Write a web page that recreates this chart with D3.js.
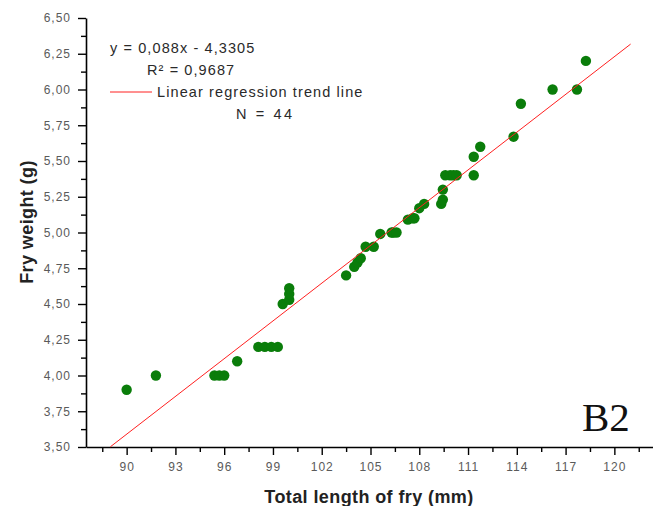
<!DOCTYPE html>
<html>
<head>
<meta charset="utf-8">
<script src="https://cdn.jsdelivr.net/npm/d3@7"></script>
<style>
  html, body { margin: 0; padding: 0; background: #fff; }
  svg { display: block; }
  .tick text { font-family: "Liberation Sans", Arial, sans-serif; font-size: 12px; fill: #5a5a5a; letter-spacing: 1px; }
</style>
</head>
<body>
<svg id="chart" width="653" height="506"></svg>
<script>
// Total length (mm) and weight (g) of each fry
const lengthMm = [
  90.0, 91.8, 95.4, 95.7, 96.0, 96.8, 98.1, 98.5, 98.9, 99.3,
  99.6, 100.0, 100.0, 100.0, 103.5, 104.0, 104.2, 104.4, 104.7, 105.2,
  105.6, 106.3, 106.4, 106.6, 107.3, 107.6, 107.7, 108.0, 108.3, 109.35,
  109.45, 109.45, 109.6, 109.9, 110.1, 110.3, 111.35, 111.35, 111.75, 113.8,
  114.25, 116.2, 117.7, 118.25
];
const weightG = [
  3.90, 4.00, 4.00, 4.00, 4.00, 4.10, 4.20, 4.20, 4.20, 4.20,
  4.50, 4.53, 4.57, 4.61, 4.70, 4.76, 4.79, 4.82, 4.90, 4.90,
  4.99, 5.00, 5.00, 5.00, 5.09, 5.10, 5.10, 5.17, 5.20, 5.20,
  5.23, 5.30, 5.40, 5.40, 5.40, 5.40, 5.40, 5.53, 5.60, 5.67,
  5.90, 6.00, 6.00, 6.20
];

// Axis ticks
const xMajorTicks = [90, 93, 96, 99, 102, 105, 108, 111, 114, 117, 120];
const xMinorTicks = [88.5, 91.5, 94.5, 97.5, 100.5, 103.5, 106.5, 109.5, 112.5, 115.5, 118.5, 121.5];
const yMajorTicks = [3.50, 3.75, 4.00, 4.25, 4.50, 4.75, 5.00, 5.25, 5.50, 5.75, 6.00, 6.25, 6.50];
const yMinorTicks = [3.625, 3.875, 4.125, 4.375, 4.625, 4.875, 5.125, 5.375, 5.625, 5.875, 6.125, 6.375];

// Fitted trend line y = slope * x + intercept, drawn over this length range
const slope = 0.088;
const intercept = -4.3305;
const trendRange = [89, 121];
const legendLines = ["y = 0,088x - 4,3305", "R\u00B2 = 0,9687", "Linear regression trend line", "N = 44"];

const svg = d3.select("#chart");
const x = d3.scaleLinear().domain([87.5, 122.5]).range([86, 655]);
const y = d3.scaleLinear().domain([3.5, 6.5]).range([447, 18]);
const commaFmt = d => d3.format(".2f")(d).replace(".", ",");

// Y axis
svg.append("g").attr("transform", `translate(${x.range()[0]},0)`)
  .call(d3.axisLeft(y).tickValues(yMajorTicks).tickFormat(commaFmt).tickSize(8).tickSizeOuter(0).tickPadding(7));
svg.append("g").attr("transform", `translate(${x.range()[0]},0)`)
  .call(d3.axisLeft(y).tickValues(yMinorTicks).tickFormat("").tickSize(5).tickSizeOuter(0))
  .select(".domain").remove();

// X axis
svg.append("g").attr("transform", `translate(0,${y.range()[0]})`)
  .call(d3.axisBottom(x).tickValues(xMajorTicks).tickFormat(d => d).tickSize(8).tickSizeOuter(0).tickPadding(7));
svg.append("g").attr("transform", `translate(0,${y.range()[0]})`)
  .call(d3.axisBottom(x).tickValues(xMinorTicks).tickFormat("").tickSize(5).tickSizeOuter(0))
  .select(".domain").remove();

svg.selectAll(".domain").attr("stroke", "#000").attr("stroke-width", 1.6);
svg.selectAll(".tick line").attr("stroke", "#000").attr("stroke-width", 1.4);

// Data points
svg.append("g").selectAll("circle")
  .data(lengthMm.map((l, i) => [l, weightG[i]]))
  .join("circle")
  .attr("cx", d => x(d[0]))
  .attr("cy", d => y(d[1]))
  .attr("r", 5.2)
  .attr("fill", "#0a7d0a");

// Trend line
svg.append("line")
  .attr("x1", x(trendRange[0])).attr("y1", y(slope * trendRange[0] + intercept))
  .attr("x2", x(trendRange[1])).attr("y2", y(slope * trendRange[1] + intercept))
  .attr("stroke", "#ff2020").attr("stroke-width", 1);

// Legend block
const legend = svg.append("g")
  .attr("font-family", "'Liberation Sans', Arial, sans-serif")
  .attr("font-size", 14.5).attr("fill", "#2a2a2a").attr("letter-spacing", "1.1px");
legend.append("text").attr("x", 110).attr("y", 53).text(legendLines[0]);
legend.append("text").attr("x", 147).attr("y", 75).text(legendLines[1]);
legend.append("line").attr("x1", 110).attr("x2", 152).attr("y1", 92).attr("y2", 92)
  .attr("stroke", "#ff2020").attr("stroke-width", 1);
legend.append("text").attr("x", 157).attr("y", 97).text(legendLines[2]);
legend.append("text").attr("x", 236).attr("y", 119).attr("letter-spacing", "2.6px").text(legendLines[3]);

// Axis titles
svg.append("text")
  .attr("x", 369).attr("y", 503)
  .attr("text-anchor", "middle")
  .attr("font-family", "'Liberation Sans', Arial, sans-serif")
  .attr("font-weight", "bold").attr("font-size", 18).attr("letter-spacing", "0.4px").attr("fill", "#222")
  .text("Total length of fry (mm)");
svg.append("text")
  .attr("transform", "translate(33,222) rotate(-90)")
  .attr("text-anchor", "middle")
  .attr("font-family", "'Liberation Sans', Arial, sans-serif")
  .attr("font-weight", "bold").attr("font-size", 18).attr("letter-spacing", "0.4px").attr("fill", "#222")
  .text("Fry weight (g)");

// Panel label
svg.append("text")
  .attr("x", 582).attr("y", 431)
  .attr("font-family", "'Liberation Serif', 'Times New Roman', serif")
  .attr("font-size", 41).attr("fill", "#111")
  .text("B2");
</script>
</body>
</html>
